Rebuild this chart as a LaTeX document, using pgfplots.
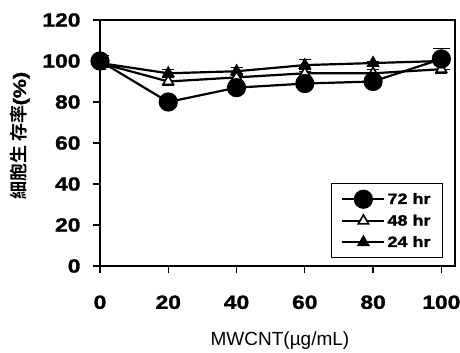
\documentclass[border=0pt]{standalone}
\usepackage{pgfplots}
\pgfplotsset{compat=1.18}
\usepackage{fontspec}
\setmainfont{Liberation Sans}
\newfontfamily\tickfont[FakeStretch=1.2,FakeBold=1.5]{Liberation Sans Bold}
\newfontfamily\cjk{Noto Sans CJK TC Bold}
\begin{document}
\begin{tikzpicture}
\path[use as bounding box] (0pt,0pt) rectangle (460pt,353pt);
\begin{axis}[
  at={(100pt,87pt)}, anchor=south west,
  width=355pt, height=246pt, scale only axis,
  xmin=0, xmax=104, ymin=0, ymax=120,
  xtick={0,20,40,60,80,100}, ytick={0,20,40,60,80,100,120},
  tick align=outside, major tick length=7pt,
  tick style={line width=1.2pt,black},
  axis line style={line width=1.8pt},
  xtick pos=bottom, ytick pos=left,
  /pgf/number format/assume math mode=true,
  tick label style={font=\tickfont\fontsize{19}{19}\selectfont},
  xticklabel style={yshift=-19pt},
  yticklabel style={xshift=-9pt},
  xlabel={MWCNT(\textmu g/mL)},
  xlabel style={font=\fontsize{19}{19}\selectfont, at={(axis description cs:0.507,0)}, yshift=-62pt, anchor=north},
  ylabel={\cjk 細胞生 存率\tickfont(\%)},
  ylabel style={font=\fontsize{18}{18}\selectfont, at={(axis description cs:-0.225,0.53)}, anchor=center},
  legend style={at={(0.966,0.033)}, anchor=south east, draw=black, line width=0.8pt,
     font=\tickfont\fontsize{15}{15}\selectfont, row sep=5pt, inner xsep=10pt, inner ysep=7pt,
     /tikz/every odd column/.style={column sep=0pt}},
  legend cell align=left,
  reverse legend,
  legend image code/.code={\draw[#1,mark repeat=2,mark phase=2] plot coordinates {(0pt,0pt) (21pt,0pt) (42pt,0pt)};},
  every axis plot/.append style={line width=2.2pt, black},
]
\addplot[mark=triangle*, mark size=6pt, mark options={fill=black, solid, line width=1.6pt},
  error bars/.cd, y dir=both, y explicit]
  coordinates {(0,99) +- (0,3) (20,94) +- (0,2) (40,95) +- (0,2) (60,98) +- (0,3) (80,99) +- (0,1) (100,100) +- (0,1)};
\addlegendentry{24 hr}
\addplot[mark=triangle*, mark size=6pt, mark options={fill=white, solid, line width=1.6pt},
  error bars/.cd, y dir=both, y explicit]
  coordinates {(0,99) +- (0,3) (20,90) +- (0,2) (40,92) +- (0,2) (60,94) +- (0,2) (80,94) +- (0,2) (100,96) +- (0,2)};
\addlegendentry{48 hr}
\addplot[mark=*, mark size=8.5pt, mark options={fill=black, solid},
  error bars/.cd, y dir=both, y explicit]
  coordinates {(0,100) +- (0,3) (20,80) +- (0,2) (40,87) +- (0,2) (60,89) +- (0,2) (80,90) +- (0,2) (100,101) +- (0,5)};
\addlegendentry{72 hr}
\end{axis}
\end{tikzpicture}
\end{document}
